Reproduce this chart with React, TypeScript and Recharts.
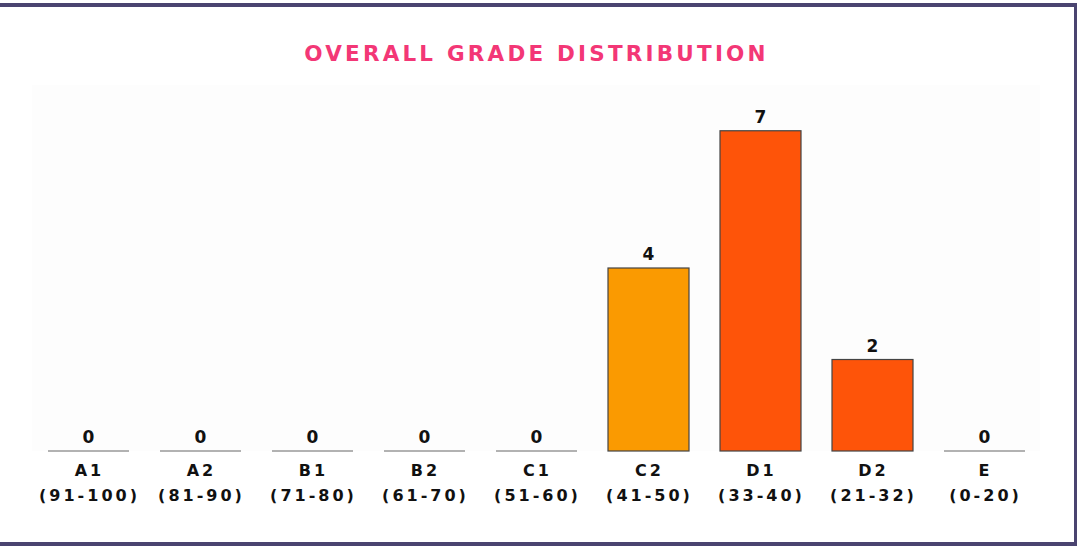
import React from 'react';
import { BarChart, Bar, XAxis, YAxis, Cell, LabelList, CartesianGrid } from 'recharts';

const grades = ['A1', 'A2', 'B1', 'B2', 'C1', 'C2', 'D1', 'D2', 'E'];
const ranges = ['(91-100)', '(81-90)', '(71-80)', '(61-70)', '(51-60)', '(41-50)', '(33-40)', '(21-32)', '(0-20)'];
const counts = [0, 0, 0, 0, 0, 4, 7, 2, 0];

const gradeColors: Record<string, string> = {
  C2: '#FA9A01',
  D1: '#FE5409',
  D2: '#FE5409',
};

const data = grades.map((grade, i) => ({ grade, range: ranges[i], count: counts[i] }));

const FONT = '"DejaVu Sans", Verdana, sans-serif';

const GradeTick = (props: any) => {
  const { x, y, payload } = props;
  const idx = grades.indexOf(payload.value);
  return (
    <text
      x={x}
      y={y}
      textAnchor="middle"
      fontFamily={FONT}
      fontWeight="bold"
      fontSize={16}
      letterSpacing={3}
      fill="#111"
    >
      <tspan x={x + 1.5} dy={17}>{payload.value}</tspan>
      <tspan x={x + 1.5} dy={25}>{ranges[idx]}</tspan>
    </text>
  );
};

const GradeBar = (props: any) => {
  const { x, y, width, height, fill } = props;
  if (!height) {
    return <line x1={x} x2={x + width} y1={y} y2={y} stroke="#666" strokeWidth={1} />;
  }
  return <rect x={x} y={y} width={width} height={height} fill={fill} stroke="#444" strokeWidth={1.2} />;
};

const App: React.FC = () => {
  return (
    <div style={{ position: 'absolute', left: 0, top: 0, width: 1077, height: 546, overflow: 'hidden', background: '#fff' }}>
      <div
        style={{
          position: 'absolute',
          left: -10,
          top: 3,
          width: 1088,
          height: 543,
          boxSizing: 'border-box',
          border: '4px solid #4a4470',
        }}
      />
      <div
        style={{
          position: 'absolute',
          left: 0,
          top: 40,
          width: 1073,
          textAlign: 'center',
          fontFamily: FONT,
          fontWeight: 'bold',
          fontSize: 21.5,
          letterSpacing: 3.2,
          color: '#F33776',
          lineHeight: '28px',
        }}
      >
        OVERALL GRADE DISTRIBUTION
      </div>
      <div style={{ position: 'absolute', left: 0, top: 0 }}>
        <BarChart width={1077} height={546} data={data} margin={{ top: 85, right: 37, bottom: 35, left: 32 }}>
          <CartesianGrid horizontal={false} vertical={false} fill="#fdfdfd" />
          <XAxis dataKey="grade" axisLine={false} tickLine={false} height={60} interval={0} tick={<GradeTick />} />
          <YAxis hide domain={[0, 8]} />
          <Bar dataKey="count" barSize={81} isAnimationActive={false} shape={<GradeBar />}>
            {data.map((d) => (
              <Cell key={d.grade} fill={gradeColors[d.grade] ?? '#FE5409'} />
            ))}
            <LabelList
              dataKey="count"
              position="top"
              offset={8}
              fill="#111"
              fontFamily={FONT}
              fontWeight="bold"
              fontSize={17}
            />
          </Bar>
        </BarChart>
      </div>
    </div>
  );
};

export default App;
